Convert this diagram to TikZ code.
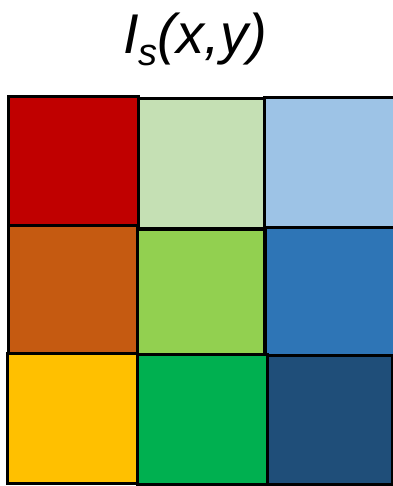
\documentclass[tikz,border=0pt]{standalone}
\usepackage{fontspec}
\newfontfamily\arialfont{Liberation Sans}
\usepackage{tikz}

\begin{document}
\begin{tikzpicture}[x=0.75pt,y=0.75pt,yscale=-1,xscale=1]
\useasboundingbox (0,0) rectangle (393,486); %set diagram left start at 0, and has height of 486

%Shape: Rectangle [id:dp1] 
\draw  [fill={rgb, 255:red, 192; green, 0; blue, 0 }  ,fill opacity=1 ][line width=2.25]  (8,96) -- (138,96) -- (138,225) -- (8,225) -- cycle ;
%Shape: Rectangle [id:dp2] 
\draw  [fill={rgb, 255:red, 197; green, 224; blue, 180 }  ,fill opacity=1 ][line width=2.25]  (138,98) -- (264,98) -- (264,228) -- (138,228) -- cycle ;
%Shape: Rectangle [id:dp3] 
\draw  [fill={rgb, 255:red, 157; green, 195; blue, 230 }  ,fill opacity=1 ][line width=2.25]  (264,97) -- (396,97) -- (396,227) -- (264,227) -- cycle ;
%Shape: Rectangle [id:dp4] 
\draw  [fill={rgb, 255:red, 197; green, 90; blue, 17 }  ,fill opacity=1 ][line width=2.25]  (8,225) -- (137,225) -- (137,353) -- (8,353) -- cycle ;
%Shape: Rectangle [id:dp5] 
\draw  [fill={rgb, 255:red, 146; green, 208; blue, 80 }  ,fill opacity=1 ][line width=2.25]  (137,229) -- (264,229) -- (264,354) -- (137,354) -- cycle ;
%Shape: Rectangle [id:dp6] 
\draw  [fill={rgb, 255:red, 46; green, 117; blue, 182 }  ,fill opacity=1 ][line width=2.25]  (265,227) -- (396,227) -- (396,355) -- (265,355) -- cycle ;
%Shape: Rectangle [id:dp7] 
\draw  [fill={rgb, 255:red, 255; green, 192; blue, 0 }  ,fill opacity=1 ][line width=2.25]  (7,353) -- (137,353) -- (137,483) -- (7,483) -- cycle ;
%Shape: Rectangle [id:dp8] 
\draw  [fill={rgb, 255:red, 0; green, 176; blue, 80 }  ,fill opacity=1 ][line width=2.25]  (137,354) -- (267,354) -- (267,484) -- (137,484) -- cycle ;
%Shape: Rectangle [id:dp9] 
\draw  [fill={rgb, 255:red, 31; green, 78; blue, 121 }  ,fill opacity=1 ][line width=2.25]  (267,355) -- (392,355) -- (392,484) -- (267,484) -- cycle ;

% Text Node
\draw (195,53) node (title) [anchor=base][inner sep=0.75pt]  [font=\arialfont\itshape\fontsize{42}{48}\selectfont]  {I\raisebox{-9pt}{\fontsize{28.5}{32}\selectfont s}(x,y)};

\end{tikzpicture}
\end{document}
